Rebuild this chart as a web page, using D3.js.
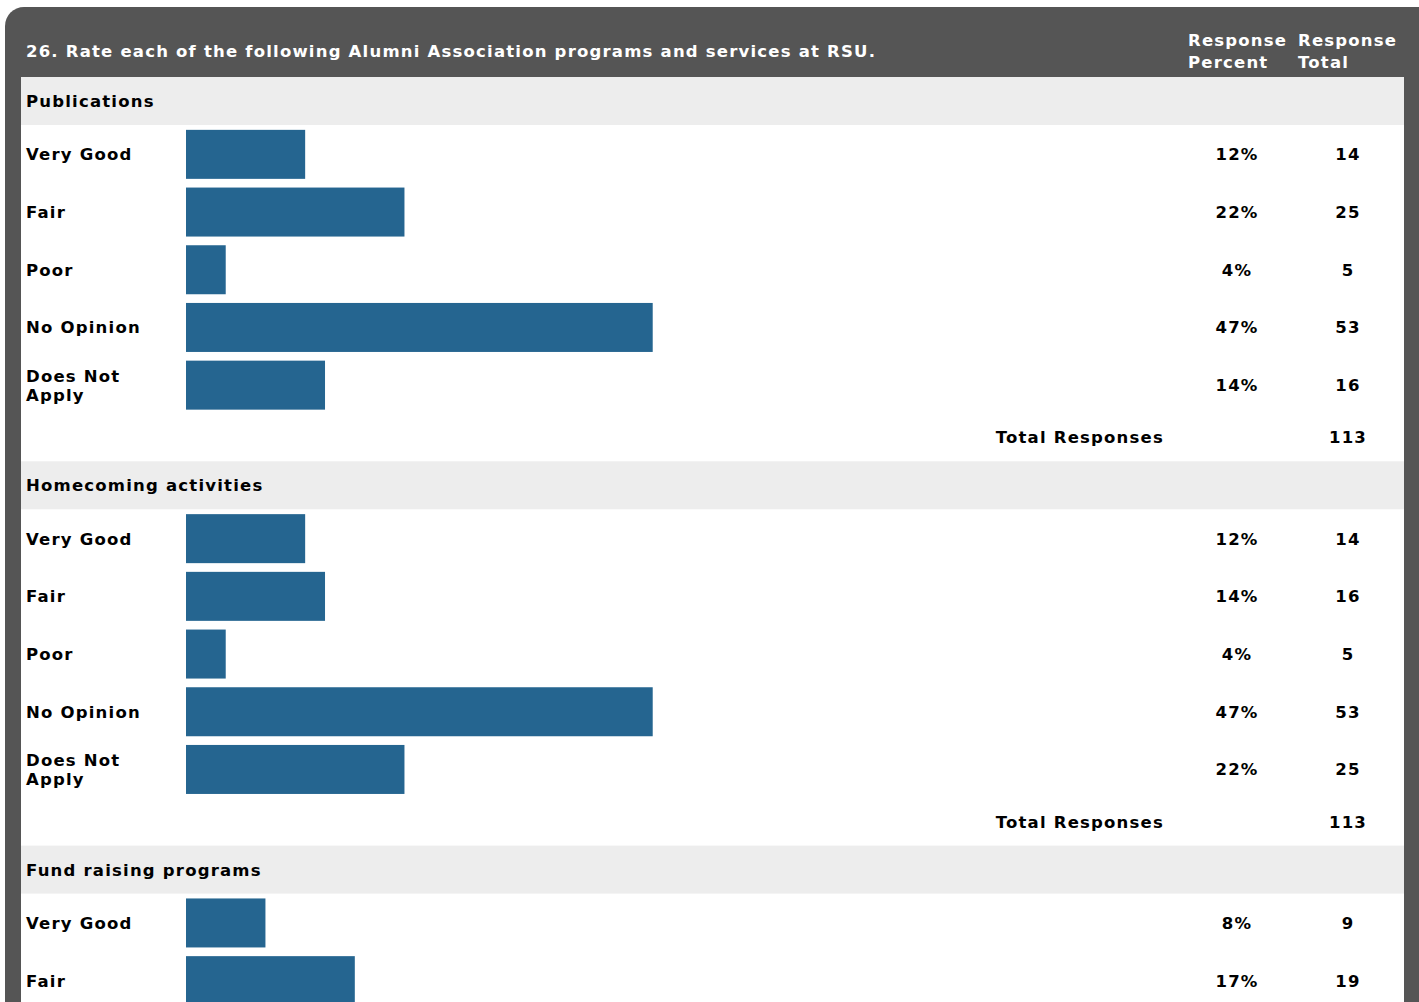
<!DOCTYPE html>
<html>
<head>
<meta charset="utf-8">
<script src="https://cdn.jsdelivr.net/npm/d3@7"></script>
<style>
  body { margin: 0; background: #fff; }
  svg { display: block; font-family: "DejaVu Sans", Verdana, sans-serif; font-weight: bold; }
</style>
</head>
<body>
<div id="chart"></div>
<script>
// Data
const title = '26. Rate each of the following Alumni Association programs and services at RSU.';
const sections = ['Publications', 'Homecoming activities', 'Fund raising programs'];
const categories = ['Very Good', 'Fair', 'Poor', 'No Opinion', 'Does Not Apply'];
const publicationsPercent = [12, 22, 4, 47, 14];
const publicationsTotal = [14, 25, 5, 53, 16];
const homecomingPercent = [12, 14, 4, 47, 22];
const homecomingTotal = [14, 16, 5, 53, 25];
const fundraisingPercent = [8, 17];
const fundraisingTotal = [9, 19];
const totalResponses = [113, 113, null];

const percents = [publicationsPercent, homecomingPercent, fundraisingPercent];
const totals = [publicationsTotal, homecomingTotal, fundraisingTotal];

// Dimension
let dimensions = {
    width: 1419,
    height: 1002,
    frameLeft: 5,
    frameTop: 7,
    innerLeft: 21,
    innerRight: 1404,
    innerTop: 77,
    sectionHeight: 384.3,
    headerHeight: 48,
    rowHeight: 57.7,
    barHeight: 49,
};

const svg = d3.select('#chart')
    .append('svg')
    .attr('width', dimensions.width)
    .attr('height', dimensions.height);

// Frame
svg.append('rect')
    .attr('x', dimensions.frameLeft)
    .attr('y', dimensions.frameTop)
    .attr('width', dimensions.width + 20 - dimensions.frameLeft)
    .attr('height', dimensions.height + 40)
    .attr('rx', 19)
    .attr('fill', '#555555');

svg.append('rect')
    .attr('x', dimensions.innerLeft)
    .attr('y', dimensions.innerTop)
    .attr('width', dimensions.innerRight - dimensions.innerLeft)
    .attr('height', dimensions.height)
    .attr('fill', '#ffffff');

const fontSize = '16.5px';
const spacing = '1.2px';

// Header texts
svg.append('text')
    .attr('x', 26)
    .attr('y', 57)
    .attr('fill', '#fff')
    .style('font-size', fontSize)
    .style('letter-spacing', spacing)
    .text(title);

const headCols = [
    { x: 1188, lines: ['Response', 'Percent'] },
    { x: 1298, lines: ['Response', 'Total'] },
];
headCols.forEach(c => {
    c.lines.forEach((l, i) => {
        svg.append('text')
            .attr('x', c.x)
            .attr('y', 46 + i * 22)
            .attr('fill', '#fff')
            .style('font-size', fontSize)
            .style('letter-spacing', spacing)
            .text(l);
    });
});

// Scales
const xScale = d3.scaleLinear()
    .domain([0, 100])
    .range([0, 993]);

const rowScale = d3.scaleBand()
    .domain(categories)
    .range([0, dimensions.rowHeight * categories.length])
    .paddingInner(0)
    .paddingOuter(0);

const barX = 186;
const pctX = 1237;
const totX = 1348;

const textStyle = sel => sel
    .attr('fill', '#000')
    .style('font-size', fontSize)
    .style('letter-spacing', spacing);

const groups = svg.append('g')
    .selectAll('g')
    .data(sections)
    .join('g')
    .attr('transform', (d, i) => `translate(0, ${dimensions.innerTop + i * dimensions.sectionHeight})`);

groups.each(function (name, si) {
    const g = d3.select(this);

    g.append('rect')
        .attr('x', dimensions.innerLeft)
        .attr('y', 0)
        .attr('width', dimensions.innerRight - dimensions.innerLeft)
        .attr('height', dimensions.headerHeight)
        .attr('fill', '#ededed');

    g.append('text')
        .attr('x', 26)
        .attr('y', dimensions.headerHeight / 2 + 6)
        .call(textStyle)
        .text(name);

    const rowsData = percents[si].map((p, i) => ({ cat: categories[i], pct: p, total: totals[si][i] }));
    const rows = g.append('g')
        .attr('transform', `translate(0, ${dimensions.headerHeight})`)
        .selectAll('g')
        .data(rowsData)
        .join('g')
        .attr('transform', d => `translate(0, ${rowScale(d.cat)})`);

    const center = rowScale.bandwidth() / 2 + 0.5;

    rows.append('rect')
        .attr('x', barX)
        .attr('y', center - dimensions.barHeight / 2)
        .attr('width', d => xScale(d.pct))
        .attr('height', dimensions.barHeight)
        .attr('fill', '#256590');

    rows.append('text')
        .attr('x', 26)
        .attr('y', center + 6)
        .call(textStyle)
        .each(function (d) {
            const t = d3.select(this);
            const words = d.cat === 'Does Not Apply' ? ['Does Not', 'Apply'] : [d.cat];
            words.forEach((w, i) => {
                t.append('tspan')
                    .attr('x', 26)
                    .attr('dy', i === 0 ? (words.length - 1) * -9.5 : 19)
                    .text(w);
            });
        });

    rows.append('text')
        .attr('x', pctX)
        .attr('y', center + 6)
        .attr('text-anchor', 'middle')
        .call(textStyle)
        .text(d => d.pct + '%');

    rows.append('text')
        .attr('x', totX)
        .attr('y', center + 6)
        .attr('text-anchor', 'middle')
        .call(textStyle)
        .text(d => d.total);

    if (totalResponses[si] != null) {
        const ty = dimensions.headerHeight + rowScale.range()[1] +
            (dimensions.sectionHeight - dimensions.headerHeight - rowScale.range()[1]) / 2 + 6;
        g.append('text')
            .attr('x', 1164)
            .attr('y', ty)
            .attr('text-anchor', 'end')
            .call(textStyle)
            .text('Total Responses');
        g.append('text')
            .attr('x', totX)
            .attr('y', ty)
            .attr('text-anchor', 'middle')
            .call(textStyle)
            .text(totalResponses[si]);
    }
});
</script>
</body>
</html>
